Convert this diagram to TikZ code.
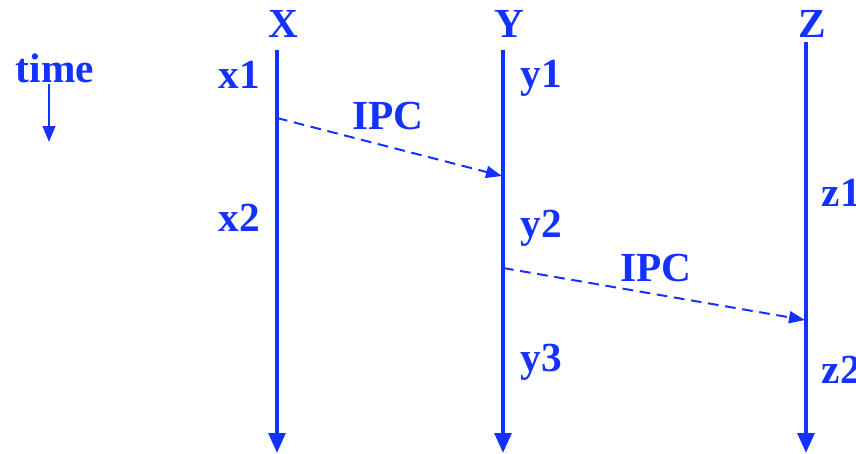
\documentclass[tikz,border=0pt]{standalone}
\usepackage{fontspec}
\setmainfont{Liberation Serif}
\usepackage{tikz}
\usetikzlibrary{arrows.meta}
\definecolor{ipcblue}{RGB}{20,50,255}

\begin{document}
\begin{tikzpicture}[x=0.75pt,y=-0.75pt,
    every node/.style={text=ipcblue, font=\fontsize{31}{34}\selectfont\bfseries},
    lifeline/.style={draw=ipcblue, line width=3pt, -{Triangle[length=15pt,width=12.5pt]}},
    ipcmsg/.style={draw=ipcblue, line width=1.5pt, dash pattern=on 8pt off 5pt,
        -{Triangle[length=12pt,width=9pt]}},
    timearrow/.style={draw=ipcblue, line width=1.5pt, -{Triangle[length=12pt,width=9.5pt]}}]
    \useasboundingbox (0,0) rectangle (856,453);

    % process names
    \node (X) at (283,24) {X};
    \node (Y) at (509,24) {Y};
    \node (Z) at (812,24) {Z};

    % life lines
    \coordinate (xtop) at (277,50);
    \coordinate (xbot) at (277,453);
    \coordinate (ytop) at (503,50);
    \coordinate (ybot) at (503,453);
    \coordinate (ztop) at (806,42);
    \coordinate (zbot) at (806,453);
    \draw[lifeline] (xtop) -- (xbot);
    \draw[lifeline] (ytop) -- (ybot);
    \draw[lifeline] (ztop) -- (zbot);

    % events
    \node (x1) at (239,75) {x1};
    \node (x2) at (239,218) {x2};
    \node (y1) at (541,78) {y1};
    \node (y2) at (541,228) {y2};
    \node (y3) at (541,362) {y3};
    \node[anchor=west] (z1) at (817,193) {z1};
    \node[anchor=west] (z2) at (817,370) {z2};

    % messages
    \coordinate (s1) at (277,118);
    \coordinate (r1) at (502,176);
    \coordinate (s2) at (503,268);
    \coordinate (r2) at (805,320);
    \draw[ipcmsg] (s1) -- (r1);
    \draw[ipcmsg] (s2) -- (r2);
    \node (ipc1) at (388,116) {IPC};
    \node (ipc2) at (656,268) {IPC};

    % time
    \node (time) at (55,68) {time};
    \coordinate (t0) at (49,84);
    \coordinate (t1) at (49,142);
    \draw[timearrow] (t0) -- (t1);
\end{tikzpicture}
\end{document}
